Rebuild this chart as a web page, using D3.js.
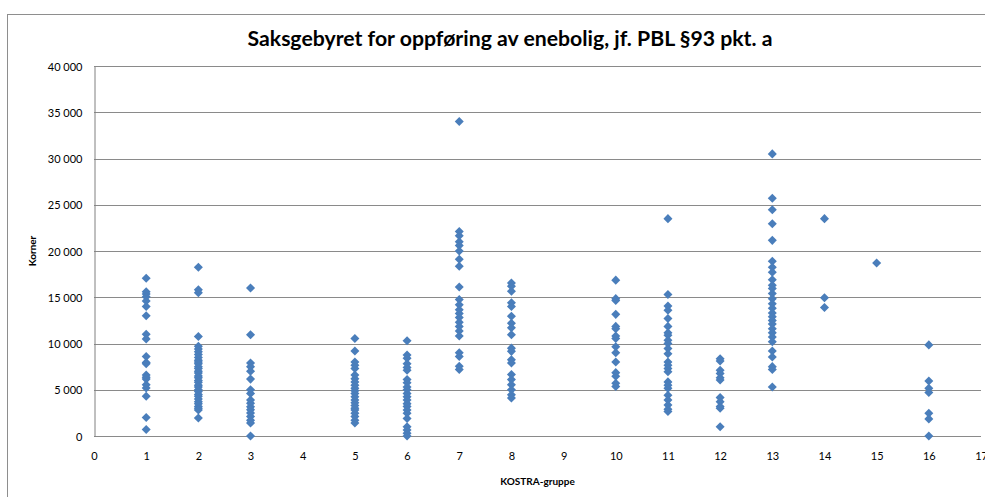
<!DOCTYPE html>
<html>
<head>
<meta charset="utf-8">
<script src="https://cdn.jsdelivr.net/npm/d3@7/dist/d3.min.js"></script>
<style>
    body { margin: 0; background: #fff; }
    svg { display: block; font-family: Lato, "Open Sans", sans-serif; }
</style>
</head>
<body>
<svg id="chart"></svg>
<script>
// KOSTRA-grupper som har data (4 og 9 mangler)
let kostraGroups = [1, 2, 3, 5, 6, 7, 8, 10, 11, 12, 13, 14, 15, 16]

// saksgebyr i kroner, lest av figuren
let gruppe1 = [17050, 15600, 15350, 15050, 14600, 14000, 13000, 11000, 10500, 8600, 7950, 7800, 6600, 6350, 6150, 5550, 5200, 4300, 2000, 700]
let gruppe2 = [18250, 15800, 15500, 10750, 9700, 9400, 9100, 8800, 8500, 8200, 8000, 7800, 7500, 7300, 7000, 6800, 6500, 6300, 6000, 5800, 5500, 5300, 5000, 4800, 4500, 4300, 4000, 3700, 3500, 3200, 3000, 2800, 1950]
let gruppe3 = [16000, 10950, 7900, 7500, 7000, 6150, 5000, 4600, 3900, 3550, 3150, 2850, 2500, 2100, 1700, 1400, 0]
let gruppe5 = [10550, 9200, 8000, 7650, 7300, 6600, 6200, 5850, 5500, 5150, 4900, 4600, 4250, 3900, 3600, 3300, 3000, 2800, 2450, 2100, 1700, 1400]
let gruppe6 = [10300, 8750, 8400, 7800, 7400, 7100, 6100, 5750, 5300, 5000, 4600, 4250, 3900, 3500, 3200, 2800, 2450, 1900, 1000, 650, 300, 0]
let gruppe7 = [34000, 22100, 21650, 21000, 20600, 20000, 19100, 18350, 16100, 14750, 14200, 13650, 13250, 12800, 12300, 11850, 11350, 10800, 9000, 8600, 7550, 7200]
let gruppe8 = [16550, 16200, 15650, 14400, 14000, 12950, 12200, 11700, 10950, 9500, 9150, 8250, 7900, 6650, 6100, 5550, 5000, 4450, 4100]
let gruppe10 = [16850, 14850, 14650, 13150, 11850, 11600, 10800, 10550, 9650, 9000, 8000, 6850, 6450, 5700, 5350]
let gruppe11 = [23500, 15300, 14050, 13600, 12700, 11850, 11150, 10900, 10350, 10000, 9450, 8900, 8000, 7650, 7300, 6950, 5850, 5500, 5150, 4400, 3900, 3350, 2900, 2650]
let gruppe12 = [8350, 8100, 7100, 6750, 6300, 6050, 4150, 3700, 3200, 3000, 1000]
let gruppe13 = [30500, 25700, 24450, 22950, 21150, 18900, 18250, 17700, 16900, 16300, 15950, 15400, 14850, 14300, 13800, 13300, 12900, 12500, 12100, 11600, 11150, 10700, 10200, 9200, 8550, 7500, 7200, 5300]
let gruppe14 = [23500, 14950, 13900]
let gruppe15 = [18700]
let gruppe16 = [9850, 5950, 5150, 4700, 2450, 1850, 0]

let xTicks = d3.range(0, 18)
let yTicks = [0, 5000, 10000, 15000, 20000, 25000, 30000, 35000, 40000]

let title = "Saksgebyret for oppføring av enebolig, jf. PBL §93 pkt. a"
let xTitle = "KOSTRA-gruppe"
let yTitle = "Korner"

let seriesValues = [gruppe1, gruppe2, gruppe3, gruppe5, gruppe6, gruppe7, gruppe8, gruppe10, gruppe11, gruppe12, gruppe13, gruppe14, gruppe15, gruppe16]

let points = []
kostraGroups.forEach((g, i) =>
{
    seriesValues[i].forEach(v => points.push({ group: g, value: v }))
})

let width = 985
let height = 497
let margin =
    {
        top: 66,
        bottom: 61,
        left: 94,
        right: 4
    }

let svg = d3.select("#chart")
    .attr("width", width)
    .attr("height", height)

// chart frame
svg.append("rect")
    .attr("x", 7.5)
    .attr("y", 14.5)
    .attr("width", 1200)
    .attr("height", 600)
    .attr("fill", "#fff")
    .attr("stroke", "#8e8e8e")

let xScale = d3
    .scaleLinear()
    .domain([0, 17])
    .range([margin.left, width - margin.right])

let yScale = d3
    .scaleLinear()
    .domain([0, 40000])
    .range([height - margin.bottom, margin.top])

let locale = d3.formatLocale({ decimal: ",", thousands: "\u00a0", grouping: [3], currency: ["", ""] })
let fmt = locale.format(",d")

// gridlines
svg.append("g")
    .selectAll("line")
    .data(yTicks)
    .enter()
    .append("line")
    .attr("x1", margin.left)
    .attr("x2", width - margin.right)
    .attr("y1", d => Math.round(yScale(d)) + 0.5)
    .attr("y2", d => Math.round(yScale(d)) + 0.5)
    .attr("stroke", "#8a8a8a")

let yAxis = d3
    .axisLeft(yScale)
    .tickValues(yTicks)
    .tickSize(0)
    .tickPadding(12)
    .tickFormat(fmt)

let yG = svg.append("g")
    .attr("transform", `translate(${margin.left + 0.5}, 0.5)`)
    .call(yAxis)
yG.select(".domain").attr("stroke", "#808080")
yG.selectAll("text")
    .attr("font-family", "Lato, sans-serif")
    .attr("font-size", 11)
    .attr("fill", "#000")

let xAxis = d3
    .axisBottom(xScale)
    .tickValues(xTicks)
    .tickSize(0)
    .tickPadding(16)
    .tickFormat(d3.format("d"))

let xG = svg.append("g")
    .attr("transform", `translate(0, ${Math.round(yScale(0)) + 0.5})`)
    .call(xAxis)
xG.select(".domain").remove()
xG.selectAll("text")
    .attr("font-family", "Lato, sans-serif")
    .attr("font-size", 11)
    .attr("fill", "#000")

// markers
let diamond = d3.symbol().type(d3.symbolDiamond2).size(52)

svg.append("g")
    .selectAll("path")
    .data(points)
    .enter()
    .append("path")
    .attr("d", diamond)
    .attr("transform", d => `translate(${xScale(d.group)}, ${yScale(d.value)})`)
    .attr("fill", "#4a7ebb")

svg.append("text")
    .attr("x", 510)
    .attr("y", 46)
    .attr("text-anchor", "middle")
    .attr("font-weight", "bold")
    .attr("font-size", 20)
    .attr("textLength", 525)
    .attr("lengthAdjust", "spacingAndGlyphs")
    .text(title)

svg.append("text")
    .attr("x", (margin.left + width - margin.right) / 2)
    .attr("y", 485)
    .attr("text-anchor", "middle")
    .attr("font-weight", "bold")
    .attr("font-size", 10)
    .text(xTitle)

svg.append("text")
    .attr("transform", `translate(36, ${(margin.top + height - margin.bottom) / 2}) rotate(-90)`)
    .attr("text-anchor", "middle")
    .attr("font-weight", "bold")
    .attr("font-size", 10)
    .text(yTitle)
</script>
</body>
</html>
